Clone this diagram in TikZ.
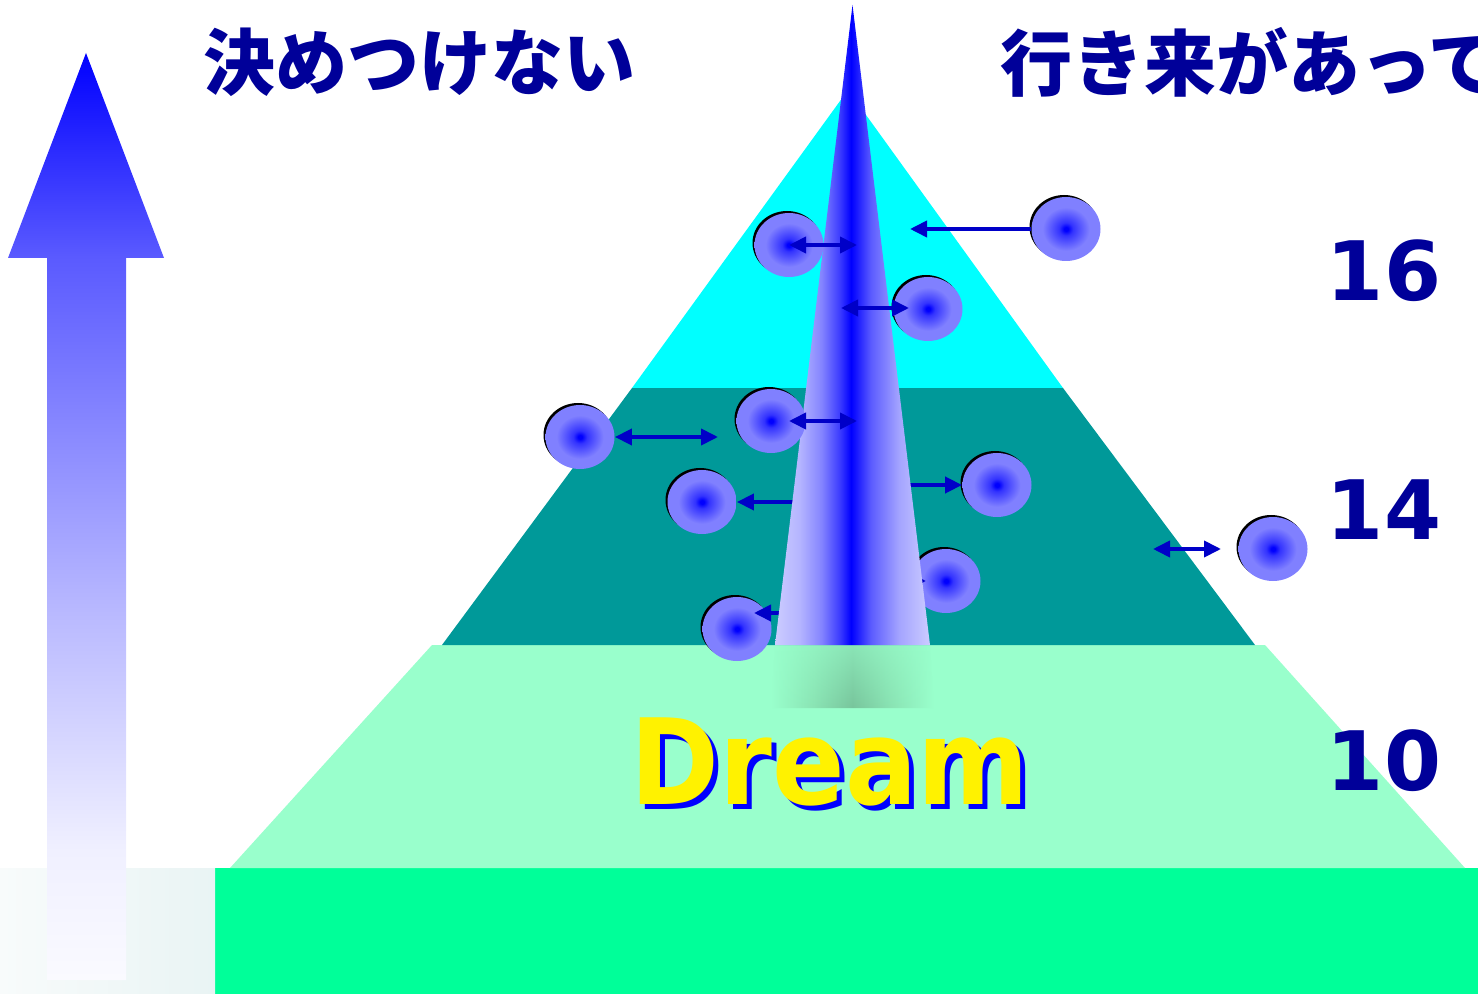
\documentclass[tikz,border=0pt]{standalone}
\usepackage{fontspec}
\usepackage{graphicx}
\usetikzlibrary{arrows.meta,shapes.geometric,fadings,shadows}
\newfontfamily\cjkfont{Noto Sans CJK JP}
\newfontfamily\labelfont{DejaVu Sans}

% palette
\definecolor{textnavy}{HTML}{000099}
\definecolor{bandgreen}{HTML}{00FF99}
\definecolor{mint}{HTML}{99FFCC}
\definecolor{tealband}{HTML}{009999}
\definecolor{cyanband}{HTML}{00FFFF}
\definecolor{arrowblue}{HTML}{0000C8}
\definecolor{ballout}{HTML}{8080FF}
\definecolor{ballmid}{HTML}{3333FF}
\definecolor{spedge}{HTML}{CCCCFF}
\definecolor{spA}{HTML}{B4B4FF}
\definecolor{spB}{HTML}{8484FF}
\definecolor{spC}{HTML}{3A3AFF}
\definecolor{spD}{HTML}{1414FF}
\definecolor{spE}{HTML}{5C5CFF}
\definecolor{spF}{HTML}{A4A4FF}
\definecolor{arA}{HTML}{FAFAFF}
\definecolor{arB}{HTML}{F0F0FF}
\definecolor{arC}{HTML}{B8B8FF}
\definecolor{arD}{HTML}{5A5AFF}
\definecolor{rfA}{HTML}{8AE4B4}
\definecolor{rfB}{HTML}{78C59C}
\definecolor{lbA}{HTML}{F8FBFB}
\definecolor{lbB}{HTML}{E9F4F4}

% shadings
\pgfdeclareradialshading{ballshade}{\pgfpoint{0bp}{0bp}}{color(0bp)=(blue); color(1.5bp)=(blue); color(5bp)=(ballmid); color(17bp)=(ballout); color(25bp)=(ballout); color(50bp)=(ballout)}
\pgfdeclarehorizontalshading{spikeshade}{100bp}{color(0bp)=(spedge); color(25bp)=(spedge); color(33bp)=(spA); color(40bp)=(spB); color(46bp)=(spC); color(49.5bp)=(blue); color(51bp)=(spD); color(56bp)=(spE); color(65bp)=(spF); color(75bp)=(spedge); color(100bp)=(spedge)}
\pgfdeclareverticalshading{risingshade}{100bp}{color(0bp)=(white); color(25bp)=(arA); color(32bp)=(arB); color(45bp)=(arC); color(64bp)=(arD); color(75bp)=(blue); color(100bp)=(blue)}
\pgfdeclarehorizontalshading{reflshade}{100bp}{color(0bp)=(mint); color(25bp)=(mint); color(38bp)=(rfA); color(50bp)=(rfB); color(62bp)=(rfA); color(75bp)=(mint); color(100bp)=(mint)}
\tikzfading[name=fadeup, top color=transparent!55, bottom color=transparent!0]

\tikzset{
  ball/.style={ellipse, minimum width=34.5pt, minimum height=32pt, inner sep=0pt,
    shade, shading=ballshade,
    general shadow={fill=black, shadow xshift=-1pt, shadow yshift=1pt}},
  link/.style={draw=arrowblue, line width=1.9pt},
  onehead/.style={link, -{Triangle[length=8.5pt,width=8pt]}},
  twohead/.style={link, {Triangle[length=8.5pt,width=8pt]}-{Triangle[length=8.5pt,width=8pt]}},
  titletext/.style={text=textnavy, inner sep=0pt, font=\cjkfont\bfseries\fontsize{36pt}{36pt}\selectfont},
  numtext/.style={text=textnavy, inner sep=0pt, font=\labelfont\bfseries\fontsize{41pt}{41pt}\selectfont},
  dreamtext/.style={inner sep=0pt, font=\labelfont\bfseries\fontsize{59.5pt}{59.5pt}\selectfont}
}

\begin{document}
\begin{tikzpicture}[x=0.5pt, y=-0.5pt]
\useasboundingbox (0,0) rectangle (1478,994);
\clip (0,0) rectangle (1478,994);

% ground strip and the faint panel at its left
\fill[bandgreen] (215,868) rectangle (1478,994);
\shade[left color=lbA, right color=lbB] (0,868) rectangle (215,994);

% pyramid levels
\fill[mint] (230,868) -- (432,645) -- (1265,645) -- (1465,868) -- cycle;
\fill[tealband] (442,645) -- (632,388) -- (1063,388) -- (1255,645) -- cycle;
\fill[cyanband] (632,388) -- (848,90) -- (1063,388) -- cycle;

% faded reflection under the spire
\shade[shading=reflshade, path fading=fadeup] (775,645) -- (930,645) -- (934,708) -- (771,708) -- cycle;

% rising arrow on the left
\shade[shading=risingshade] (86,53) -- (164,258) -- (126,258) -- (126,980) -- (47,980) -- (47,258) -- (8,258) -- cycle;

% lower spheres and their links (partly behind the spire)
\node[ball] (b6) at (702,502) {};
\node[ball] (b7) at (997,485) {};
\node[ball] (b8) at (946,581) {};
\node[ball] (b9) at (737,629) {};
\coordinate (s6) at (805,502);
\coordinate (s7) at (895,485);
\coordinate (s8) at (890,581);
\coordinate (t8) at (926,581);
\coordinate (s9) at (805,613);
\coordinate (t9) at (754,613);
\draw[onehead] (s6) -- (b6.east);
\draw[onehead] (s7) -- (b7.west);
\draw[onehead] (s8) -- (t8);
\draw[onehead] (s9) -- (t9);

% the spire
\shade[shading=spikeshade] (852.5,5) -- (930,645) -- (775,645) -- cycle;

% upper spheres
\node[ball] (b1) at (789,245) {};
\node[ball] (b2) at (928,309) {};
\node[ball] (b3) at (1066,229) {};
\node[ball] (b4) at (580,437) {};
\node[ball] (b5) at (771,421) {};
\node[ball] (b10) at (1273,549) {};

% links between spheres and the spire
\coordinate (s1) at (857,245);
\coordinate (s2) at (841,308);
\coordinate (t2) at (909,308);
\coordinate (t3) at (910,229);
\coordinate (t4) at (718,437);
\coordinate (f5) at (789,421);
\coordinate (s5) at (857,421);
\coordinate (f10) at (1153,549);
\coordinate (t10) at (1221,549);
\draw[twohead] (b1.center) -- (s1);
\draw[twohead] (s2) -- (t2);
\draw[onehead] (b3.west) -- (t3);
\draw[twohead] (b4.east) -- (t4);
\draw[twohead] (f5) -- (s5);
\draw[twohead] (f10) -- (t10);

% headings
\node[titletext, anchor=west] (h1) at (203,62) {決めつけない};
\node[titletext, anchor=west] (h2) at (1000,62) {行き来があって};

% level numbers
\node[numtext] (n16) at (1384,271) {16};
\node[numtext] (n14) at (1384,510) {14};
\node[numtext] (n10) at (1384,761) {10};

% title on the base
\node[dreamtext, text=blue] (dreamshadow) at (835,767) {\scalebox{0.9}[1]{Dream}};
\node[dreamtext, text=yellow] (dream) at (830,762) {\scalebox{0.9}[1]{Dream}};
\end{tikzpicture}
\end{document}
